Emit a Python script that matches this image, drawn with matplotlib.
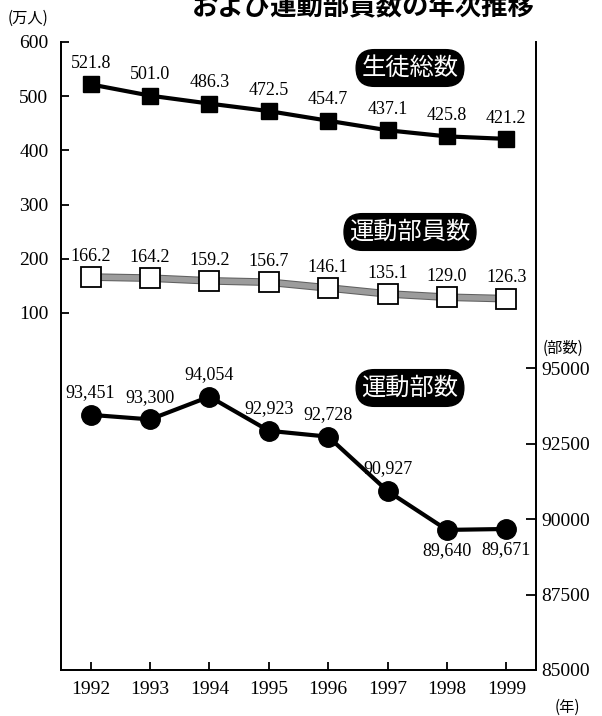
import matplotlib
matplotlib.use('Agg')
import matplotlib.pyplot as plt
import matplotlib.patheffects as pe

plt.rcParams['font.family'] = ['Liberation Serif', 'Noto Sans CJK JP', 'DejaVu Sans']

# - data
years = [1992, 1993, 1994, 1995, 1996, 1997, 1998, 1999]
students = [521.8, 501.0, 486.3, 472.5, 454.7, 437.1, 425.8, 421.2]      # 万人
members = [166.2, 164.2, 159.2, 156.7, 146.1, 135.1, 129.0, 126.3]       # 万人
clubs = [93451, 93300, 94054, 92923, 92728, 90927, 89640, 89671]         # 部数
clubs_below = [False, False, False, False, False, False, True, True]

left_ticks = [100, 200, 300, 400, 500, 600]
right_ticks = [85000, 87500, 90000, 92500, 95000]

title = 'および運動部員数の年次推移'
badge_students = '生徒総数'
badge_members = '運動部員数'
badge_clubs = '運動部数'

W, H = 602, 716
fig = plt.figure(figsize=(W / 100, H / 100), dpi=100)
ax = fig.add_axes([61 / W, 1 - 670 / H, (536 - 61) / W, (670 - 42) / H])
ax2 = ax.twinx()

ax.set_xlim(1991.5, 1999.5)
ax.set_ylim(-559, 600)
ax2.set_ylim(85000, 105800)

for a in (ax, ax2):
    a.spines['top'].set_visible(False)
    for s in a.spines.values():
        s.set_linewidth(1.3)

# - lines
ax.plot(years, students, color='black', lw=3, marker='s', ms=12,
        mfc='black', mec='black', zorder=3)
ax.plot(years, members, color='#9c9c9c', lw=4, zorder=2,
        path_effects=[pe.Stroke(linewidth=5.5, foreground='#606060'), pe.Normal()])
ax.plot(years, members, ls='none', marker='s', ms=14,
        mfc='white', mec='black', mew=1.3, zorder=3)
ax2.plot(years, clubs, color='black', lw=3, marker='o', ms=14,
         mfc='black', mec='black', zorder=3)

lab_font = dict(fontsize=13, family='Liberation Serif', ha='center', va='center')
for x, v in zip(years, students):
    ax.annotate('{0:.1f}'.format(v), (x, v), xytext=(0, 15),
                textcoords='offset points', **lab_font)
for x, v in zip(years, members):
    ax.annotate('{0:.1f}'.format(v), (x, v), xytext=(0, 15),
                textcoords='offset points', **lab_font)
for x, v, b in zip(years, clubs, clubs_below):
    ax2.annotate('{0:,}'.format(v), (x, v), xytext=(0, -15 if b else 16),
                 textcoords='offset points', **lab_font)

# - ticks
ax.set_yticks(left_ticks)
ax.set_yticklabels([str(t) for t in left_ticks])
ax.tick_params(axis='y', direction='in', length=6, width=1.3, pad=9, labelsize=14)
ax.set_xticks(years)
ax.set_xticklabels([str(y) for y in years])
ax.tick_params(axis='x', direction='in', length=6, width=1.3, pad=8, labelsize=14)
ax2.set_yticks(right_ticks)
ax2.set_yticklabels([str(t) for t in right_ticks])
ax2.tick_params(axis='y', direction='in', length=7, width=1.3, pad=4, labelsize=14)

# - badges
badge = dict(boxstyle='round,pad=0.22,rounding_size=0.75', fc='black', ec='black')
for txt, ypx in [(badge_students, 68), (badge_members, 232), (badge_clubs, 388)]:
    fig.text(410 / W, 1 - ypx / H, txt, color='white', fontsize=17.5,
             family='Noto Sans CJK JP', ha='center', va='center', bbox=badge)

# - unit labels and title
cjk = ['Noto Sans CJK JP', 'DejaVu Sans']
fig.text(8 / W, 1 - 18 / H, '(万人)', fontsize=11, family=cjk, va='center')
fig.text(543 / W, 1 - 348 / H, '(部数)', fontsize=11, family=cjk, va='center')
fig.text(555 / W, 1 - 707 / H, '(年)', fontsize=11, family=cjk, va='center')
fig.text(363 / W, 1 - 8 / H, title, fontsize=19, fontweight='bold',
         family=cjk, ha='center', va='center')

fig.savefig('out.png', dpi=100)
